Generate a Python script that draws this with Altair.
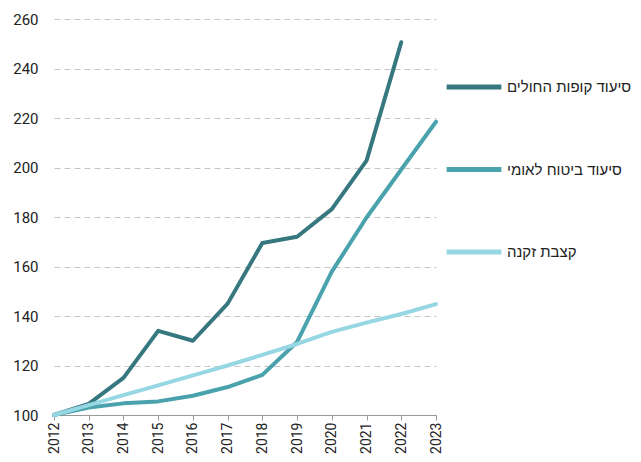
import altair as alt
import pandas as pd

years = list(range(2012, 2024))
series_names = ["סיעוד קופות החולים", "סיעוד ביטוח לאומי", "קצבת זקנה"]
kupot = [100, 104.5, 115, 134, 130, 145, 169.5, 172, 183.2, 202.8, 250.6, None]
bituach = [100, 103, 104.7, 105.5, 107.8, 111.3, 116.2, 129.5, 157.9, 179.8, 199.2, 218.5]
zikna = [100, 104, 108, 112, 116, 120, 124.3, 128.7, 133.6, 137.3, 140.8, 144.8]
colors = ["#37777f", "#49a2ac", "#96d7e3"]

rows = []
for name, vals in zip(series_names, [kupot, bituach, zikna]):
    for y, v in zip(years, vals):
        if v is not None:
            rows.append({"year": str(y), "value": v, "series": name})
df = pd.DataFrame(rows)

FONT = "Roboto"
HFONT = "Liberation Sans"

chart = alt.Chart(df).mark_line(strokeWidth=4, strokeCap="round", strokeJoin="round").encode(
    x=alt.X("year:O", scale=alt.Scale(padding=0), axis=alt.Axis(
        title=None, labelAngle=-90, labelAlign="right", labelBaseline="middle",
        labelFontSize=14, labelColor="#222", labelFont=FONT,
        domainColor="#999", tickColor="#999", tickSize=5, labelPadding=2, grid=False)),
    y=alt.Y("value:Q", scale=alt.Scale(domain=[100, 260], nice=False, zero=False), axis=alt.Axis(
        title=None, values=list(range(100, 261, 20)), labelFontSize=15, labelColor="#222",
        labelFont=FONT, domain=False, ticks=False, labelPadding=16,
        grid=True, gridDash=[6, 4], gridColor="#c4c4c4", gridWidth=1)),
    color=alt.Color("series:N", scale=alt.Scale(domain=series_names, range=colors), legend=alt.Legend(
        title=None, orient="none", legendX=390, legendY=38, symbolType="stroke",
        symbolSize=3000, symbolStrokeWidth=5, labelFontSize=15, labelFont=HFONT,
        labelColor="#222", rowPadding=42.5, labelOffset=3, labelLimit=300)),
    order=alt.value(0),
).properties(
    width=382, height=396,
    autosize=alt.AutoSizeParams(type="none"),
    padding={"left": 46, "top": 11, "right": 197, "bottom": 39},
).configure_view(stroke=None)

chart.save("out.html", embed_options={"renderer": "svg", "actions": False})
